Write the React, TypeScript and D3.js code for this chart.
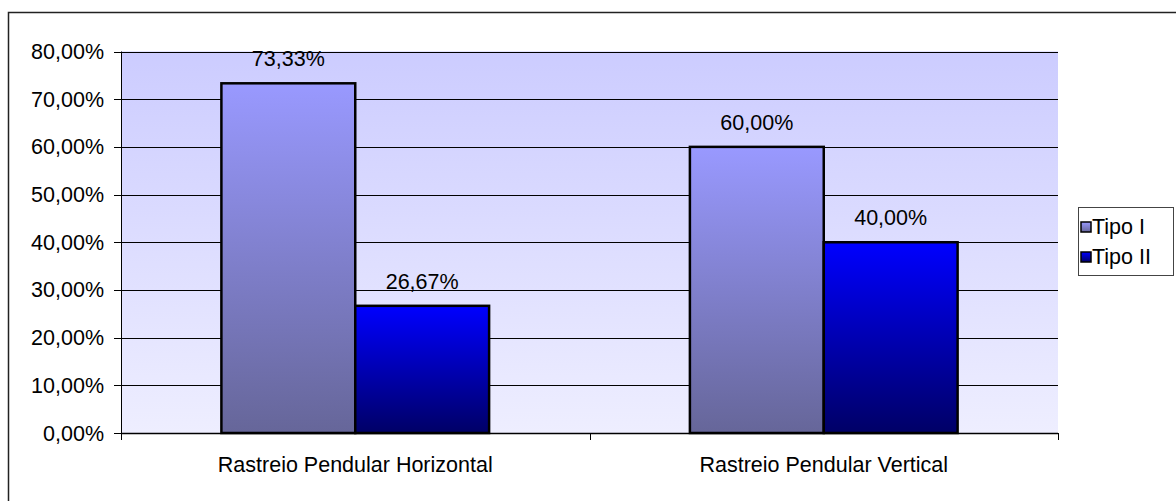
import { useEffect, useRef } from "react";
import * as d3 from "d3";

const categories = ["Rastreio Pendular Horizontal", "Rastreio Pendular Vertical"];
const seriesNames = ["Tipo I", "Tipo II"];
const tipoI = [0.7333, 0.6];
const tipoII = [0.2667, 0.4];
const yTicks = [0, 0.1, 0.2, 0.3, 0.4, 0.5, 0.6, 0.7, 0.8];

const W = 1176;
const H = 501;
const FONT = "'Liberation Sans', Arial, sans-serif";

export default function App() {
  const svgRef = useRef<SVGSVGElement>(null);

  useEffect(() => {
    if (!svgRef.current) return;
    const svg = d3.select(svgRef.current);
    svg.selectAll("*").remove();

    const left = 121, right = 1058, top = 51.5, bottom = 433;
    const fmt = (v: number) => (v * 100).toFixed(2).replace(".", ",") + "%";

    const y = d3.scaleLinear().domain([0, 0.8]).range([bottom, top]);
    const x = d3.scaleBand<string>().domain(categories).range([left, right]);
    const bw = x.bandwidth() / 3.5;
    const xs = d3.scaleBand<string>().domain(seriesNames)
      .range([bw * 0.75, bw * 2.75]);

    const defs = svg.append("defs");
    const grad = (id: string, c1: string, c2: string) => {
      const g = defs.append("linearGradient").attr("id", id)
        .attr("x1", 0).attr("y1", 0).attr("x2", 0).attr("y2", 1);
      g.append("stop").attr("offset", "0%").attr("stop-color", c1);
      g.append("stop").attr("offset", "100%").attr("stop-color", c2);
    };
    grad("bg", "#ccccff", "#eeeeff");
    grad("g1", "#9999ff", "#666699");
    grad("g2", "#0000ff", "#000066");
    const fills = ["url(#g1)", "url(#g2)"];

    // outer frame
    svg.append("rect").attr("x", 8.5).attr("y", 12.5)
      .attr("width", W + 20).attr("height", H + 20)
      .attr("fill", "#fff").attr("stroke", "#222").attr("stroke-width", 1.5);

    // plot area
    svg.append("rect").attr("x", left).attr("y", top)
      .attr("width", right - left).attr("height", bottom - top)
      .attr("fill", "url(#bg)");

    // gridlines
    svg.append("g").selectAll("line").data(yTicks.slice(1)).join("line")
      .attr("x1", left).attr("x2", right)
      .attr("y1", d => Math.round(y(d)) + 0.5).attr("y2", d => Math.round(y(d)) + 0.5)
      .attr("stroke", "#000").attr("stroke-width", 1);

    // bars
    const data = [tipoI, tipoII];
    data.forEach((vals, si) => {
      svg.append("g").selectAll("rect").data(vals).join("rect")
        .attr("x", (_, i) => x(categories[i])! + xs(seriesNames[si])!)
        .attr("y", d => y(d))
        .attr("width", bw)
        .attr("height", d => bottom - y(d))
        .attr("fill", fills[si])
        .attr("stroke", "#000").attr("stroke-width", 2.5);
      svg.append("g").selectAll("text").data(vals).join("text")
        .attr("x", (_, i) => x(categories[i])! + xs(seriesNames[si])! + bw / 2)
        .attr("y", d => y(d) - 17)
        .attr("text-anchor", "middle")
        .text(d => fmt(d));
    });

    // y axis
    svg.append("line").attr("x1", left + 0.5).attr("x2", left + 0.5)
      .attr("y1", top).attr("y2", bottom).attr("stroke", "#000");
    const ya = svg.append("g");
    ya.selectAll("line").data(yTicks).join("line")
      .attr("x1", left - 7).attr("x2", left)
      .attr("y1", d => Math.round(y(d)) + 0.5).attr("y2", d => Math.round(y(d)) + 0.5)
      .attr("stroke", "#000");
    ya.selectAll("text").data(yTicks).join("text")
      .attr("x", 104).attr("y", d => y(d))
      .attr("dy", "0.35em").attr("text-anchor", "end")
      .text(d => fmt(d));

    // x axis
    svg.append("line").attr("x1", left).attr("x2", right)
      .attr("y1", bottom + 0.5).attr("y2", bottom + 0.5)
      .attr("stroke", "#000").attr("stroke-width", 1.5);
    const xTickPos = [left, ...categories.map(c => x(c)! + x.bandwidth())];
    svg.append("g").selectAll("line").data(xTickPos).join("line")
      .attr("x1", d => Math.round(d) + 0.5).attr("x2", d => Math.round(d) + 0.5)
      .attr("y1", bottom).attr("y2", bottom + 7).attr("stroke", "#000");
    svg.append("g").selectAll("text").data(categories).join("text")
      .attr("x", d => x(d)! + x.bandwidth() / 2).attr("y", 472)
      .attr("text-anchor", "middle").text(d => d);

    // legend
    const lg = svg.append("g");
    lg.append("rect").attr("x", 1078.5).attr("y", 207.5)
      .attr("width", 95).attr("height", 68)
      .attr("fill", "#fff").attr("stroke", "#444");
    seriesNames.forEach((n, i) => {
      const cy = 228 + i * 30;
      lg.append("rect").attr("x", 1081).attr("y", cy - 6)
        .attr("width", 10).attr("height", 10)
        .attr("fill", fills[i]).attr("stroke", "#000").attr("stroke-width", 1.5);
      lg.append("text").attr("x", 1092).attr("y", cy + 5.5).text(n);
    });

    svg.selectAll("text")
      .attr("font-family", FONT).attr("font-size", 21.5)
      .attr("fill", "#000");
  }, []);

  return (
    <svg
      ref={svgRef}
      width={W}
      height={H}
      style={{ position: "absolute", left: 0, top: 0, display: "block" }}
    />
  );
}
